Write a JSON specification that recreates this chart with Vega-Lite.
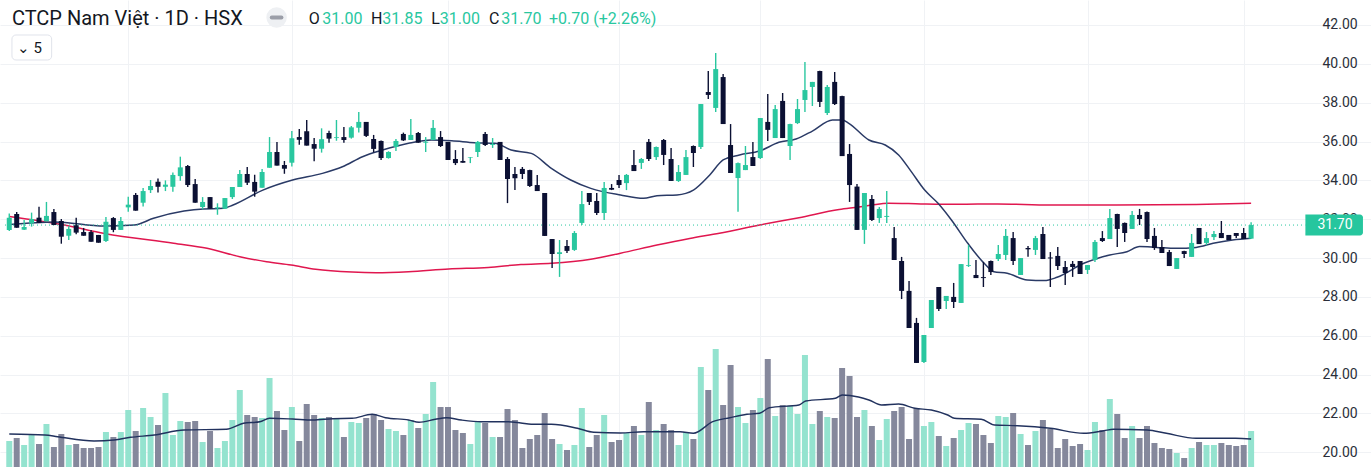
{
  "$schema": "https://vega.github.io/schema/vega-lite/v6.json",
  "width": 1371,
  "height": 467,
  "autosize": "none",
  "padding": 0,
  "background": "#ffffff",
  "config": {"view": {"stroke": null}, "font": "Roboto"},
  "datasets": {
    "candles": [
      {"i":0,"o":31.45,"h":32.30,"l":31.40,"c":32.08,"v":520000},
      {"i":1,"o":32.27,"h":32.37,"l":31.56,"c":31.56,"v":580000},
      {"i":2,"o":31.46,"h":31.96,"l":31.45,"c":31.60,"v":440000},
      {"i":3,"o":31.79,"h":32.34,"l":31.62,"c":32.01,"v":660000},
      {"i":4,"o":32.08,"h":32.64,"l":31.82,"c":31.82,"v":460000},
      {"i":5,"o":31.89,"h":32.89,"l":31.89,"c":32.17,"v":860000},
      {"i":6,"o":32.37,"h":32.53,"l":31.70,"c":31.70,"v":400000},
      {"i":7,"o":31.91,"h":32.01,"l":30.74,"c":31.10,"v":660000},
      {"i":8,"o":31.15,"h":31.64,"l":30.93,"c":31.50,"v":440000},
      {"i":9,"o":31.69,"h":32.08,"l":31.22,"c":31.31,"v":460000},
      {"i":10,"o":31.34,"h":31.55,"l":31.15,"c":31.15,"v":380000},
      {"i":11,"o":31.34,"h":31.45,"l":30.84,"c":30.84,"v":380000},
      {"i":12,"o":31.19,"h":31.19,"l":30.79,"c":30.79,"v":400000},
      {"i":13,"o":30.88,"h":32.11,"l":30.83,"c":31.87,"v":700000},
      {"i":14,"o":32.06,"h":32.11,"l":31.33,"c":31.45,"v":600000},
      {"i":15,"o":31.45,"h":32.11,"l":31.45,"c":31.91,"v":700000},
      {"i":16,"o":32.61,"h":33.16,"l":32.39,"c":32.75,"v":1140000},
      {"i":17,"o":33.25,"h":33.35,"l":32.44,"c":32.44,"v":720000},
      {"i":18,"o":32.85,"h":33.61,"l":32.65,"c":33.45,"v":1180000},
      {"i":19,"o":33.50,"h":34.02,"l":33.35,"c":33.71,"v":1000000},
      {"i":20,"o":33.93,"h":34.10,"l":33.37,"c":33.67,"v":840000},
      {"i":21,"o":33.67,"h":34.00,"l":33.45,"c":33.78,"v":1480000},
      {"i":22,"o":33.67,"h":34.40,"l":33.42,"c":34.28,"v":640000},
      {"i":23,"o":34.22,"h":35.22,"l":33.98,"c":34.67,"v":920000},
      {"i":24,"o":34.74,"h":34.79,"l":33.66,"c":33.76,"v":900000},
      {"i":25,"o":33.81,"h":34.07,"l":32.85,"c":32.85,"v":920000},
      {"i":26,"o":32.63,"h":33.14,"l":32.51,"c":32.89,"v":500000},
      {"i":27,"o":33.14,"h":33.14,"l":32.54,"c":32.54,"v":720000},
      {"i":28,"o":32.56,"h":32.82,"l":32.23,"c":32.61,"v":380000},
      {"i":29,"o":32.54,"h":33.09,"l":32.54,"c":33.09,"v":520000},
      {"i":30,"o":33.14,"h":33.66,"l":33.04,"c":33.66,"v":940000},
      {"i":31,"o":33.66,"h":34.53,"l":33.66,"c":34.33,"v":1540000},
      {"i":32,"o":34.33,"h":34.69,"l":33.76,"c":33.88,"v":1040000},
      {"i":33,"o":33.92,"h":34.29,"l":33.16,"c":33.42,"v":1000000},
      {"i":34,"o":33.62,"h":34.58,"l":33.62,"c":34.43,"v":980000},
      {"i":35,"o":34.65,"h":36.23,"l":34.65,"c":35.46,"v":1780000},
      {"i":36,"o":35.46,"h":35.97,"l":34.76,"c":34.76,"v":1120000},
      {"i":37,"o":34.79,"h":35.00,"l":34.34,"c":34.60,"v":740000},
      {"i":38,"o":34.91,"h":36.54,"l":34.71,"c":36.17,"v":1200000},
      {"i":39,"o":36.23,"h":36.64,"l":35.84,"c":36.09,"v":520000},
      {"i":40,"o":36.53,"h":37.11,"l":35.79,"c":35.79,"v":1260000},
      {"i":41,"o":35.87,"h":36.18,"l":34.99,"c":35.63,"v":1040000},
      {"i":42,"o":35.63,"h":36.68,"l":35.43,"c":36.12,"v":980000},
      {"i":43,"o":36.44,"h":36.56,"l":35.94,"c":36.15,"v":1000000},
      {"i":44,"o":36.18,"h":37.11,"l":36.04,"c":36.22,"v":960000},
      {"i":45,"o":36.23,"h":36.75,"l":35.94,"c":36.08,"v":600000},
      {"i":46,"o":36.20,"h":36.80,"l":36.15,"c":36.73,"v":900000},
      {"i":47,"o":36.71,"h":37.52,"l":36.46,"c":37.01,"v":880000},
      {"i":48,"o":37.01,"h":37.01,"l":36.23,"c":36.29,"v":980000},
      {"i":49,"o":36.13,"h":36.34,"l":35.44,"c":35.62,"v":1060000},
      {"i":50,"o":36.03,"h":36.05,"l":35.05,"c":35.15,"v":940000},
      {"i":51,"o":35.15,"h":35.50,"l":35.12,"c":35.46,"v":760000},
      {"i":52,"o":35.72,"h":36.13,"l":35.51,"c":36.03,"v":720000},
      {"i":53,"o":36.39,"h":36.46,"l":36.03,"c":36.06,"v":640000},
      {"i":54,"o":36.08,"h":37.16,"l":36.08,"c":36.34,"v":940000},
      {"i":55,"o":36.44,"h":36.49,"l":35.94,"c":35.94,"v":780000},
      {"i":56,"o":35.94,"h":36.23,"l":35.46,"c":35.99,"v":1060000},
      {"i":57,"o":36.08,"h":37.11,"l":36.08,"c":36.70,"v":1700000},
      {"i":58,"o":36.23,"h":36.54,"l":35.72,"c":35.77,"v":1200000},
      {"i":59,"o":35.98,"h":35.98,"l":35.05,"c":35.05,"v":1200000},
      {"i":60,"o":35.10,"h":35.56,"l":34.79,"c":34.89,"v":740000},
      {"i":61,"o":35.00,"h":35.67,"l":34.91,"c":34.91,"v":680000},
      {"i":62,"o":35.17,"h":35.20,"l":34.89,"c":35.20,"v":460000},
      {"i":63,"o":35.46,"h":36.03,"l":35.20,"c":35.98,"v":900000},
      {"i":64,"o":36.39,"h":36.49,"l":35.77,"c":35.82,"v":880000},
      {"i":65,"o":35.82,"h":36.18,"l":35.67,"c":35.87,"v":600000},
      {"i":66,"o":35.98,"h":35.98,"l":35.05,"c":35.05,"v":600000},
      {"i":67,"o":35.10,"h":35.20,"l":32.83,"c":34.07,"v":1160000},
      {"i":68,"o":34.33,"h":34.69,"l":33.50,"c":34.11,"v":940000},
      {"i":69,"o":34.59,"h":34.69,"l":34.07,"c":34.33,"v":380000},
      {"i":70,"o":34.53,"h":34.55,"l":33.66,"c":33.71,"v":560000},
      {"i":71,"o":33.76,"h":34.28,"l":33.45,"c":33.45,"v":640000},
      {"i":72,"o":33.35,"h":33.35,"l":31.14,"c":31.14,"v":1080000},
      {"i":73,"o":30.98,"h":30.98,"l":29.49,"c":30.21,"v":560000},
      {"i":74,"o":30.21,"h":30.93,"l":29.03,"c":30.30,"v":460000},
      {"i":75,"o":30.62,"h":30.93,"l":30.26,"c":30.37,"v":340000},
      {"i":76,"o":30.42,"h":31.39,"l":30.37,"c":31.29,"v":440000},
      {"i":77,"o":31.81,"h":33.45,"l":31.70,"c":32.78,"v":1180000},
      {"i":78,"o":33.35,"h":33.35,"l":32.73,"c":32.89,"v":400000},
      {"i":79,"o":32.94,"h":33.35,"l":32.22,"c":32.32,"v":640000},
      {"i":80,"o":32.32,"h":33.92,"l":31.96,"c":33.61,"v":1040000},
      {"i":81,"o":33.61,"h":33.81,"l":33.50,"c":33.52,"v":500000},
      {"i":82,"o":34.02,"h":34.28,"l":33.61,"c":33.76,"v":540000},
      {"i":83,"o":33.86,"h":34.33,"l":33.50,"c":34.28,"v":680000},
      {"i":84,"o":34.79,"h":35.56,"l":34.48,"c":34.48,"v":820000},
      {"i":85,"o":34.90,"h":35.15,"l":34.59,"c":35.10,"v":640000},
      {"i":86,"o":35.98,"h":36.13,"l":35.00,"c":35.10,"v":1300000},
      {"i":87,"o":35.20,"h":35.75,"l":35.05,"c":35.72,"v":740000},
      {"i":88,"o":36.08,"h":36.13,"l":34.79,"c":35.31,"v":860000},
      {"i":89,"o":35.10,"h":35.67,"l":33.97,"c":33.97,"v":740000},
      {"i":90,"o":33.97,"h":34.79,"l":33.92,"c":34.43,"v":440000},
      {"i":91,"o":34.28,"h":35.56,"l":34.28,"c":35.20,"v":700000},
      {"i":92,"o":35.77,"h":35.80,"l":34.69,"c":35.41,"v":560000},
      {"i":93,"o":35.72,"h":37.93,"l":35.62,"c":37.93,"v":2000000},
      {"i":94,"o":38.55,"h":39.63,"l":38.19,"c":38.40,"v":1540000},
      {"i":95,"o":37.73,"h":40.56,"l":37.52,"c":39.73,"v":2360000},
      {"i":96,"o":39.32,"h":39.48,"l":36.90,"c":36.90,"v":1240000},
      {"i":97,"o":35.82,"h":36.90,"l":34.38,"c":34.38,"v":2040000},
      {"i":98,"o":34.12,"h":34.92,"l":32.39,"c":34.89,"v":1200000},
      {"i":99,"o":34.53,"h":35.77,"l":34.53,"c":34.79,"v":880000},
      {"i":100,"o":35.20,"h":35.98,"l":34.74,"c":34.74,"v":1140000},
      {"i":101,"o":35.15,"h":37.21,"l":35.10,"c":37.21,"v":1380000},
      {"i":102,"o":37.01,"h":38.45,"l":36.03,"c":36.60,"v":2160000},
      {"i":103,"o":36.18,"h":37.88,"l":36.18,"c":37.67,"v":1020000},
      {"i":104,"o":38.09,"h":38.50,"l":36.18,"c":36.18,"v":1240000},
      {"i":105,"o":35.77,"h":36.92,"l":35.05,"c":36.90,"v":1220000},
      {"i":106,"o":36.95,"h":38.19,"l":36.90,"c":37.67,"v":1060000},
      {"i":107,"o":38.14,"h":40.09,"l":37.52,"c":38.65,"v":2240000},
      {"i":108,"o":38.81,"h":39.07,"l":37.83,"c":39.07,"v":860000},
      {"i":109,"o":39.63,"h":39.65,"l":37.78,"c":38.04,"v":1120000},
      {"i":110,"o":37.47,"h":38.91,"l":37.37,"c":38.81,"v":1000000},
      {"i":111,"o":39.07,"h":39.58,"l":37.88,"c":37.93,"v":980000},
      {"i":112,"o":38.34,"h":38.36,"l":35.25,"c":35.25,"v":1980000},
      {"i":113,"o":35.36,"h":35.87,"l":32.89,"c":33.76,"v":1820000},
      {"i":114,"o":33.68,"h":33.81,"l":31.45,"c":31.45,"v":1000000},
      {"i":115,"o":31.45,"h":33.35,"l":30.73,"c":33.35,"v":1140000},
      {"i":116,"o":33.04,"h":33.25,"l":31.91,"c":31.96,"v":820000},
      {"i":117,"o":32.06,"h":32.63,"l":31.81,"c":32.53,"v":540000},
      {"i":118,"o":32.12,"h":33.45,"l":31.81,"c":32.17,"v":960000},
      {"i":119,"o":31.03,"h":31.60,"l":29.90,"c":29.90,"v":1120000},
      {"i":120,"o":29.85,"h":30.06,"l":27.89,"c":28.31,"v":1200000},
      {"i":121,"o":28.31,"h":28.82,"l":26.40,"c":26.40,"v":560000},
      {"i":122,"o":26.66,"h":26.92,"l":24.60,"c":24.60,"v":1180000},
      {"i":123,"o":24.65,"h":26.04,"l":24.60,"c":26.04,"v":820000},
      {"i":124,"o":26.40,"h":27.84,"l":26.40,"c":27.84,"v":900000},
      {"i":125,"o":28.51,"h":28.51,"l":27.28,"c":27.38,"v":620000},
      {"i":126,"o":27.79,"h":28.05,"l":27.38,"c":28.05,"v":420000},
      {"i":127,"o":28.00,"h":28.72,"l":27.43,"c":27.74,"v":580000},
      {"i":128,"o":27.69,"h":29.69,"l":27.69,"c":29.69,"v":740000},
      {"i":129,"o":29.60,"h":30.67,"l":29.54,"c":29.64,"v":880000},
      {"i":130,"o":29.13,"h":29.90,"l":28.97,"c":28.97,"v":860000},
      {"i":131,"o":29.02,"h":29.80,"l":28.51,"c":28.97,"v":640000},
      {"i":132,"o":29.85,"h":29.87,"l":29.13,"c":29.28,"v":480000},
      {"i":133,"o":29.95,"h":30.67,"l":29.85,"c":30.21,"v":1020000},
      {"i":134,"o":30.16,"h":31.50,"l":29.90,"c":31.14,"v":1000000},
      {"i":135,"o":31.03,"h":31.34,"l":29.64,"c":29.85,"v":1080000},
      {"i":136,"o":29.13,"h":30.00,"l":29.13,"c":30.00,"v":660000},
      {"i":137,"o":30.52,"h":30.62,"l":30.07,"c":30.45,"v":440000},
      {"i":138,"o":30.42,"h":31.14,"l":30.16,"c":31.03,"v":720000},
      {"i":139,"o":31.24,"h":31.60,"l":29.95,"c":29.95,"v":940000},
      {"i":140,"o":30.03,"h":30.31,"l":28.51,"c":29.98,"v":760000},
      {"i":141,"o":30.11,"h":30.57,"l":29.39,"c":29.59,"v":380000},
      {"i":142,"o":29.54,"h":29.85,"l":28.61,"c":29.23,"v":560000},
      {"i":143,"o":29.70,"h":29.85,"l":29.03,"c":29.54,"v":420000},
      {"i":144,"o":29.85,"h":29.85,"l":29.18,"c":29.18,"v":460000},
      {"i":145,"o":29.39,"h":29.64,"l":29.18,"c":29.64,"v":340000},
      {"i":146,"o":29.90,"h":30.93,"l":29.80,"c":30.83,"v":900000},
      {"i":147,"o":31.03,"h":31.39,"l":30.83,"c":30.88,"v":740000},
      {"i":148,"o":30.98,"h":32.53,"l":30.98,"c":32.06,"v":1360000},
      {"i":149,"o":32.27,"h":32.28,"l":30.57,"c":31.50,"v":1060000},
      {"i":150,"o":31.81,"h":31.83,"l":30.83,"c":31.29,"v":580000},
      {"i":151,"o":31.50,"h":32.42,"l":31.50,"c":32.22,"v":820000},
      {"i":152,"o":32.22,"h":32.53,"l":31.70,"c":32.01,"v":580000},
      {"i":153,"o":32.37,"h":32.40,"l":30.83,"c":30.98,"v":820000},
      {"i":154,"o":31.14,"h":31.55,"l":30.42,"c":30.52,"v":480000},
      {"i":155,"o":30.57,"h":30.93,"l":30.26,"c":30.26,"v":380000},
      {"i":156,"o":30.31,"h":30.42,"l":29.59,"c":29.59,"v":360000},
      {"i":157,"o":29.44,"h":30.00,"l":29.44,"c":30.00,"v":280000},
      {"i":158,"o":30.36,"h":30.38,"l":30.00,"c":30.21,"v":180000},
      {"i":159,"o":30.06,"h":31.24,"l":30.06,"c":30.78,"v":380000},
      {"i":160,"o":31.55,"h":31.55,"l":30.72,"c":30.72,"v":500000},
      {"i":161,"o":30.78,"h":31.34,"l":30.67,"c":31.03,"v":440000},
      {"i":162,"o":31.08,"h":31.39,"l":30.93,"c":31.24,"v":440000},
      {"i":163,"o":31.29,"h":31.91,"l":31.03,"c":31.03,"v":480000},
      {"i":164,"o":31.19,"h":31.19,"l":30.93,"c":30.93,"v":440000},
      {"i":165,"o":31.29,"h":31.29,"l":31.03,"c":31.14,"v":420000},
      {"i":166,"o":31.29,"h":31.55,"l":30.98,"c":30.98,"v":440000},
      {"i":167,"o":31.00,"h":31.85,"l":31.00,"c":31.70,"v":720000}
    ],
    "maFast": [
      {"i":0,"ma":31.73},{"i":6.1,"ma":31.86},{"i":12.8,"ma":31.65},{"i":16.8,"ma":31.70},{"i":19.4,"ma":32.05},
      {"i":23.5,"ma":32.42},{"i":26.1,"ma":32.53},{"i":28.8,"ma":32.56},{"i":30.1,"ma":32.73},{"i":34.1,"ma":33.50},
      {"i":38.1,"ma":34.02},{"i":42.1,"ma":34.36},{"i":44.8,"ma":34.70},{"i":47.5,"ma":35.22},{"i":50.2,"ma":35.56},
      {"i":53.7,"ma":35.91},{"i":56.8,"ma":36.08},{"i":59.5,"ma":36.04},{"i":62.6,"ma":35.94},{"i":65.3,"ma":35.91},
      {"i":67.5,"ma":35.56},{"i":70.2,"ma":35.39},{"i":72.9,"ma":34.62},{"i":75.5,"ma":34.02},{"i":78.2,"ma":33.59},
      {"i":82.2,"ma":33.25},{"i":85.3,"ma":33.08},{"i":87.1,"ma":33.21},{"i":89.8,"ma":33.25},{"i":92.0,"ma":33.50},
      {"i":94.2,"ma":34.28},{"i":96.0,"ma":35.05},{"i":98.2,"ma":35.31},{"i":100.9,"ma":35.51},{"i":103.5,"ma":35.96},
      {"i":105.8,"ma":36.13},{"i":108.0,"ma":36.54},{"i":110.7,"ma":37.11},{"i":112.0,"ma":37.11},{"i":112.9,"ma":36.94},
      {"i":115.6,"ma":36.08},{"i":117.8,"ma":35.82},{"i":119.6,"ma":35.31},{"i":121.3,"ma":34.45},{"i":123.1,"ma":33.50},
      {"i":124.9,"ma":32.82},{"i":126.7,"ma":31.96},{"i":128.9,"ma":30.76},{"i":131.1,"ma":29.73},{"i":132.4,"ma":29.30},
      {"i":134.2,"ma":29.22},{"i":136.9,"ma":28.87},{"i":139.2,"ma":28.84},{"i":140.9,"ma":29.01},{"i":144.5,"ma":29.73},
      {"i":148.0,"ma":30.16},{"i":150.3,"ma":30.33},{"i":152.0,"ma":30.59},{"i":154.3,"ma":30.55},{"i":156.9,"ma":30.50},
      {"i":159.6,"ma":30.55},{"i":161.9,"ma":30.76},{"i":164.5,"ma":30.93},{"i":167.0,"ma":31.02}
    ],
    "maSlow": [
      {"i":0,"ma":32.14},{"i":7.4,"ma":31.70},{"i":12.8,"ma":31.27},{"i":22.1,"ma":30.76},{"i":26.6,"ma":30.50},
      {"i":31.0,"ma":30.07},{"i":34.6,"ma":29.81},{"i":37.9,"ma":29.64},{"i":41.2,"ma":29.42},{"i":46.1,"ma":29.28},
      {"i":49.3,"ma":29.25},{"i":53.7,"ma":29.30},{"i":59.1,"ma":29.44},{"i":64.4,"ma":29.52},{"i":68.8,"ma":29.67},
      {"i":72.9,"ma":29.73},{"i":78.2,"ma":29.94},{"i":82.2,"ma":30.25},{"i":87.1,"ma":30.67},{"i":91.5,"ma":31.01},
      {"i":95.5,"ma":31.28},{"i":100.9,"ma":31.70},{"i":106.2,"ma":32.08},{"i":111.6,"ma":32.50},{"i":114.2,"ma":32.63},
      {"i":116.0,"ma":32.73},{"i":118.2,"ma":32.82},{"i":122.6,"ma":32.79},{"i":127.6,"ma":32.77},{"i":132.9,"ma":32.79},
      {"i":140.0,"ma":32.73},{"i":148.9,"ma":32.73},{"i":159.6,"ma":32.76},{"i":167.0,"ma":32.82}
    ],
    "volMa": [
      {"i":0,"vma":660000},{"i":4.8,"vma":640000},{"i":6.5,"vma":606000},{"i":11.4,"vma":520000},{"i":14.1,"vma":540000},
      {"i":16.3,"vma":594000},{"i":19.5,"vma":640000},{"i":23.5,"vma":740000},{"i":29.2,"vma":754000},{"i":31.5,"vma":874000},
      {"i":33.7,"vma":906000},{"i":35.0,"vma":974000},{"i":38.1,"vma":960000},{"i":40.8,"vma":940000},{"i":43.5,"vma":966000},
      {"i":46.1,"vma":974000},{"i":48.8,"vma":1054000},{"i":50.6,"vma":986000},{"i":53.7,"vma":940000},{"i":55.1,"vma":894000},
      {"i":57.3,"vma":954000},{"i":58.8,"vma":986000},{"i":60.8,"vma":940000},{"i":63.5,"vma":906000},{"i":67.1,"vma":906000},
      {"i":68.8,"vma":880000},{"i":70.2,"vma":854000},{"i":72.9,"vma":854000},{"i":76.4,"vma":774000},{"i":78.6,"vma":694000},
      {"i":82.2,"vma":680000},{"i":85.3,"vma":706000},{"i":90.2,"vma":706000},{"i":92.0,"vma":674000},{"i":94.6,"vma":906000},
      {"i":96.9,"vma":986000},{"i":99.2,"vma":1054000},{"i":100.9,"vma":1074000},{"i":102.2,"vma":1186000},{"i":106.2,"vma":1240000},
      {"i":107.1,"vma":1320000},{"i":111.1,"vma":1374000},{"i":112.0,"vma":1440000},{"i":114.2,"vma":1400000},{"i":115.6,"vma":1340000},
      {"i":117.3,"vma":1240000},{"i":119.6,"vma":1260000},{"i":121.8,"vma":1174000},{"i":124.0,"vma":1140000},{"i":126.2,"vma":1040000},
      {"i":127.1,"vma":974000},{"i":130.7,"vma":954000},{"i":132.5,"vma":840000},{"i":135.6,"vma":826000},{"i":140.0,"vma":774000},
      {"i":144.5,"vma":674000},{"i":147.2,"vma":726000},{"i":148.5,"vma":754000},{"i":153.0,"vma":740000},{"i":155.6,"vma":674000},
      {"i":159.6,"vma":574000},{"i":164.9,"vma":574000},{"i":167.0,"vma":560000}
    ],
    "quote": [
      {"open":31.00,"high":31.85,"low":31.00,"close":31.70,"change":"+0.70 (+2.26%)"}
    ]
  },
  "layer": [
    {
      "layer": [
        {
          "data": {"name": "candles"},
          "mark": {"type": "bar", "width": 6},
          "encoding": {
            "x": {
              "field": "i", "type": "quantitative",
              "scale": {"domain": [-0.574, 182.45], "nice": false, "zero": false},
              "axis": {"title": null, "values": [16, 38, 59, 82, 101, 123, 145, 166], "grid": true, "gridColor": "#f0f2f5", "gridWidth": 1, "labels": false, "ticks": false, "domain": false, "zindex": 0}
            },
            "y": {"field": "v", "type": "quantitative", "scale": {"domain": [0, 9340000], "nice": false, "zero": true}, "axis": null},
            "color": {"condition": {"test": "datum.c >= datum.o", "value": "#94e3cf"}, "value": "#85889c"}
          }
        },
        {
          "data": {"name": "volMa"},
          "mark": {"type": "line", "color": "#22325e", "strokeWidth": 1.4, "interpolate": "monotone"},
          "encoding": {
            "x": {"field": "i", "type": "quantitative", "scale": {"domain": [-0.574, 182.45], "nice": false, "zero": false}},
            "y": {"field": "vma", "type": "quantitative", "scale": {"domain": [0, 9340000], "nice": false, "zero": true}, "axis": null}
          }
        }
      ]
    },
    {
      "layer": [
        {
          "data": {"name": "maSlow"},
          "mark": {"type": "line", "color": "#e0174f", "strokeWidth": 1.5, "interpolate": "monotone"},
          "encoding": {
            "x": {"field": "i", "type": "quantitative", "scale": {"domain": [-0.574, 182.45], "nice": false, "zero": false}},
            "y": {
              "field": "ma", "type": "quantitative",
              "scale": {"domain": [19.243, 43.287], "nice": false, "zero": false},
              "axis": {"title": null, "orient": "right", "values": [20, 22, 24, 26, 28, 30, 32, 34, 36, 38, 40, 42], "format": ".2f", "grid": true, "gridColor": "#f0f2f5", "gridWidth": 1, "ticks": false, "domain": false, "labelFont": "Roboto", "labelFontSize": 14, "labelColor": "#2a2e39", "labelPadding": -49, "labelAlign": "left", "labelBaseline": "middle", "labelOverlap": false, "zindex": 0}
            }
          }
        },
        {
          "data": {"name": "maFast"},
          "mark": {"type": "line", "color": "#2a3a66", "strokeWidth": 1.5, "interpolate": "monotone"},
          "encoding": {
            "x": {"field": "i", "type": "quantitative", "scale": {"domain": [-0.574, 182.45], "nice": false, "zero": false}},
            "y": {"field": "ma", "type": "quantitative", "scale": {"domain": [19.243, 43.287], "nice": false, "zero": false}}
          }
        },
        {
          "data": {"name": "quote"},
          "mark": {"type": "rule", "color": "#29c79f", "strokeWidth": 1, "strokeDash": [1, 3]},
          "encoding": {
            "x": {"datum": -0.574, "type": "quantitative", "scale": {"domain": [-0.574, 182.45], "nice": false, "zero": false}},
            "x2": {"datum": 174.3},
            "y": {"field": "close", "type": "quantitative", "scale": {"domain": [19.243, 43.287], "nice": false, "zero": false}}
          }
        },
        {
          "data": {"name": "candles"},
          "mark": {"type": "rule", "strokeWidth": 1.4},
          "encoding": {
            "x": {"field": "i", "type": "quantitative", "scale": {"domain": [-0.574, 182.45], "nice": false, "zero": false}},
            "y": {"field": "l", "type": "quantitative", "scale": {"domain": [19.243, 43.287], "nice": false, "zero": false}},
            "y2": {"field": "h"},
            "color": {"condition": {"test": "datum.c >= datum.o", "value": "#29c79f"}, "value": "#0b1033"}
          }
        },
        {
          "data": {"name": "candles"},
          "mark": {"type": "bar", "width": 5},
          "encoding": {
            "x": {"field": "i", "type": "quantitative", "scale": {"domain": [-0.574, 182.45], "nice": false, "zero": false}},
            "y": {"field": "o", "type": "quantitative", "scale": {"domain": [19.243, 43.287], "nice": false, "zero": false}},
            "y2": {"field": "c"},
            "color": {"condition": {"test": "datum.c >= datum.o", "value": "#29c79f"}, "value": "#0b1033"}
          }
        },
        {
          "data": {"name": "quote"},
          "mark": {"type": "text", "align": "left", "baseline": "middle", "fontSize": 20, "color": "#131722", "font": "Roboto"},
          "encoding": {
            "x": {"datum": 0.36, "type": "quantitative", "scale": {"domain": [-0.574, 182.45], "nice": false, "zero": false}},
            "y": {"datum": 42.31, "type": "quantitative", "scale": {"domain": [19.243, 43.287], "nice": false, "zero": false}},
            "text": {"value": "CTCP Nam Việt · 1D · HSX"}
          }
        },
        {
          "data": {"name": "quote"},
          "mark": {"type": "point", "shape": "circle", "filled": true, "size": 420, "color": "#eef0f3", "opacity": 1},
          "encoding": {
            "x": {"datum": 35.95, "type": "quantitative", "scale": {"domain": [-0.574, 182.45], "nice": false, "zero": false}},
            "y": {"datum": 42.38, "type": "quantitative", "scale": {"domain": [19.243, 43.287], "nice": false, "zero": false}}
          }
        },
        {
          "data": {"name": "quote"},
          "mark": {"type": "rule", "color": "#9b9ea8", "strokeWidth": 4, "strokeCap": "round"},
          "encoding": {
            "x": {"datum": 35.3, "type": "quantitative", "scale": {"domain": [-0.574, 182.45], "nice": false, "zero": false}},
            "x2": {"datum": 36.6},
            "y": {"datum": 42.38, "type": "quantitative", "scale": {"domain": [19.243, 43.287], "nice": false, "zero": false}}
          }
        },
        {
          "data": {"name": "quote"},
          "mark": {"type": "text", "align": "left", "baseline": "middle", "fontSize": 16, "color": "#131722", "font": "Roboto"},
          "encoding": {
            "x": {"datum": 40.27, "type": "quantitative", "scale": {"domain": [-0.574, 182.45], "nice": false, "zero": false}},
            "y": {"datum": 42.31, "type": "quantitative", "scale": {"domain": [19.243, 43.287], "nice": false, "zero": false}},
            "text": {"value": "O"}
          }
        },
        {
          "data": {"name": "quote"},
          "mark": {"type": "text", "align": "left", "baseline": "middle", "fontSize": 16, "color": "#29c79f", "font": "Roboto"},
          "encoding": {
            "x": {"datum": 42.09, "type": "quantitative", "scale": {"domain": [-0.574, 182.45], "nice": false, "zero": false}},
            "y": {"datum": 42.31, "type": "quantitative", "scale": {"domain": [19.243, 43.287], "nice": false, "zero": false}},
            "text": {"field": "open", "format": ".2f"}
          }
        },
        {
          "data": {"name": "quote"},
          "mark": {"type": "text", "align": "left", "baseline": "middle", "fontSize": 16, "color": "#131722", "font": "Roboto"},
          "encoding": {
            "x": {"datum": 48.66, "type": "quantitative", "scale": {"domain": [-0.574, 182.45], "nice": false, "zero": false}},
            "y": {"datum": 42.31, "type": "quantitative", "scale": {"domain": [19.243, 43.287], "nice": false, "zero": false}},
            "text": {"value": "H"}
          }
        },
        {
          "data": {"name": "quote"},
          "mark": {"type": "text", "align": "left", "baseline": "middle", "fontSize": 16, "color": "#29c79f", "font": "Roboto"},
          "encoding": {
            "x": {"datum": 50.15, "type": "quantitative", "scale": {"domain": [-0.574, 182.45], "nice": false, "zero": false}},
            "y": {"datum": 42.31, "type": "quantitative", "scale": {"domain": [19.243, 43.287], "nice": false, "zero": false}},
            "text": {"field": "high", "format": ".2f"}
          }
        },
        {
          "data": {"name": "quote"},
          "mark": {"type": "text", "align": "left", "baseline": "middle", "fontSize": 16, "color": "#131722", "font": "Roboto"},
          "encoding": {
            "x": {"datum": 56.76, "type": "quantitative", "scale": {"domain": [-0.574, 182.45], "nice": false, "zero": false}},
            "y": {"datum": 42.31, "type": "quantitative", "scale": {"domain": [19.243, 43.287], "nice": false, "zero": false}},
            "text": {"value": "L"}
          }
        },
        {
          "data": {"name": "quote"},
          "mark": {"type": "text", "align": "left", "baseline": "middle", "fontSize": 16, "color": "#29c79f", "font": "Roboto"},
          "encoding": {
            "x": {"datum": 57.90, "type": "quantitative", "scale": {"domain": [-0.574, 182.45], "nice": false, "zero": false}},
            "y": {"datum": 42.31, "type": "quantitative", "scale": {"domain": [19.243, 43.287], "nice": false, "zero": false}},
            "text": {"field": "low", "format": ".2f"}
          }
        },
        {
          "data": {"name": "quote"},
          "mark": {"type": "text", "align": "left", "baseline": "middle", "fontSize": 16, "color": "#131722", "font": "Roboto"},
          "encoding": {
            "x": {"datum": 64.50, "type": "quantitative", "scale": {"domain": [-0.574, 182.45], "nice": false, "zero": false}},
            "y": {"datum": 42.31, "type": "quantitative", "scale": {"domain": [19.243, 43.287], "nice": false, "zero": false}},
            "text": {"value": "C"}
          }
        },
        {
          "data": {"name": "quote"},
          "mark": {"type": "text", "align": "left", "baseline": "middle", "fontSize": 16, "color": "#29c79f", "font": "Roboto"},
          "encoding": {
            "x": {"datum": 66.17, "type": "quantitative", "scale": {"domain": [-0.574, 182.45], "nice": false, "zero": false}},
            "y": {"datum": 42.31, "type": "quantitative", "scale": {"domain": [19.243, 43.287], "nice": false, "zero": false}},
            "text": {"field": "close", "format": ".2f"}
          }
        },
        {
          "data": {"name": "quote"},
          "mark": {"type": "text", "align": "left", "baseline": "middle", "fontSize": 16, "color": "#29c79f", "font": "Roboto"},
          "encoding": {
            "x": {"datum": 72.58, "type": "quantitative", "scale": {"domain": [-0.574, 182.45], "nice": false, "zero": false}},
            "y": {"datum": 42.31, "type": "quantitative", "scale": {"domain": [19.243, 43.287], "nice": false, "zero": false}},
            "text": {"field": "change"}
          }
        },
        {
          "data": {"name": "quote"},
          "mark": {"type": "rect", "fill": "#ffffff", "stroke": "#e0e3eb", "strokeWidth": 1, "cornerRadius": 4},
          "encoding": {
            "x": {"datum": 0.36, "type": "quantitative", "scale": {"domain": [-0.574, 182.45], "nice": false, "zero": false}},
            "x2": {"datum": 5.70},
            "y": {"datum": 41.485, "type": "quantitative", "scale": {"domain": [19.243, 43.287], "nice": false, "zero": false}},
            "y2": {"datum": 40.198}
          }
        },
        {
          "data": {"name": "quote"},
          "mark": {"type": "text", "align": "left", "baseline": "middle", "fontSize": 15, "color": "#131722", "font": "Roboto"},
          "encoding": {
            "x": {"datum": 1.0, "type": "quantitative", "scale": {"domain": [-0.574, 182.45], "nice": false, "zero": false}},
            "y": {"datum": 40.84, "type": "quantitative", "scale": {"domain": [19.243, 43.287], "nice": false, "zero": false}},
            "text": {"value": "⌄ 5"}
          }
        },
        {
          "data": {"name": "quote"},
          "mark": {"type": "rect", "color": "#26c69e", "opacity": 1, "cornerRadiusTopRight": 3, "cornerRadiusBottomRight": 3},
          "encoding": {
            "x": {"datum": 174.3, "type": "quantitative", "scale": {"domain": [-0.574, 182.45], "nice": false, "zero": false}},
            "x2": {"datum": 182.04},
            "y": {"datum": 32.24, "type": "quantitative", "scale": {"domain": [19.243, 43.287], "nice": false, "zero": false}},
            "y2": {"datum": 31.16}
          }
        },
        {
          "data": {"name": "quote"},
          "mark": {"type": "text", "align": "left", "baseline": "middle", "dx": 12, "fontSize": 14, "color": "#ffffff", "font": "Roboto"},
          "encoding": {
            "x": {"datum": 174.3, "type": "quantitative", "scale": {"domain": [-0.574, 182.45], "nice": false, "zero": false}},
            "y": {"field": "close", "type": "quantitative", "scale": {"domain": [19.243, 43.287], "nice": false, "zero": false}},
            "text": {"field": "close", "format": ".2f"}
          }
        }
      ]
    }
  ],
  "resolve": {"scale": {"y": "independent"}}
}
